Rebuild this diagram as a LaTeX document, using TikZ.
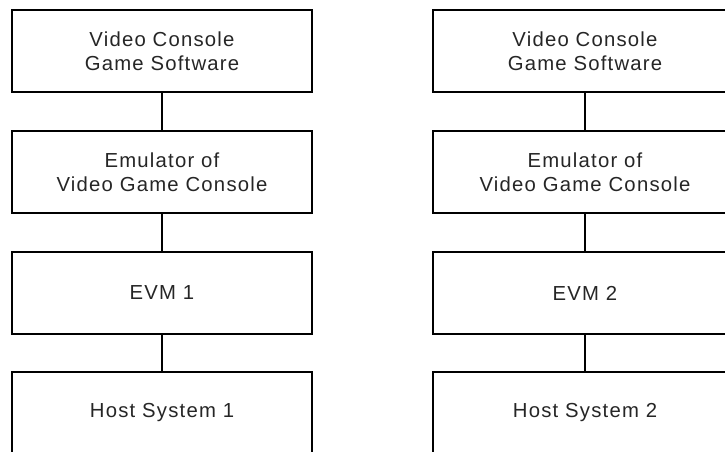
\documentclass[tikz,border=0pt]{standalone}
\usepackage{fontspec}
\setmainfont[LetterSpace=6]{Liberation Sans}
\begin{document}
\begin{tikzpicture}[x=1pt,y=-1pt,
  box/.style={draw=black, line width=2.4pt, minimum width=300pt, minimum height=82pt,
    inner sep=0pt, align=center, text=black!85,
    font=\fontsize{20.3pt}{23.5pt}\selectfont},
  wideb/.style={box, minimum width=304pt},
  link/.style={draw=black, line width=2.4pt}]
\useasboundingbox (0,0) rectangle (725,452);
\fill[white] (0,0) rectangle (725,452);
\begin{scope}
\clip (0,0) rectangle (725,452);
% left column
\node[box] (a1) at (162,51) {Video Console\\Game Software};
\node[box] (a2) at (162,172) {Emulator of\\Video Game Console};
\node[box] (a3) at (162,293) {EVM 1};
\node[box] (a4) at (162,413) {Host System 1};
% right column
\node[wideb] (b1) at (585,51) {Video Console\\Game Software};
\node[wideb] (b2) at (585,172) {Emulator of\\Video Game Console};
\node[wideb] (b3) at (585,293) {EVM 2};
\node[wideb] (b4) at (585,413) {Host System 2};
\draw[link] (a1.south) -- (a2.north);
\draw[link] (a2.south) -- (a3.north);
\draw[link] (a3.south) -- (a4.north);
\draw[link] (b1.south) -- (b2.north);
\draw[link] (b2.south) -- (b3.north);
\draw[link] (b3.south) -- (b4.north);
\end{scope}
\end{tikzpicture}
\end{document}
